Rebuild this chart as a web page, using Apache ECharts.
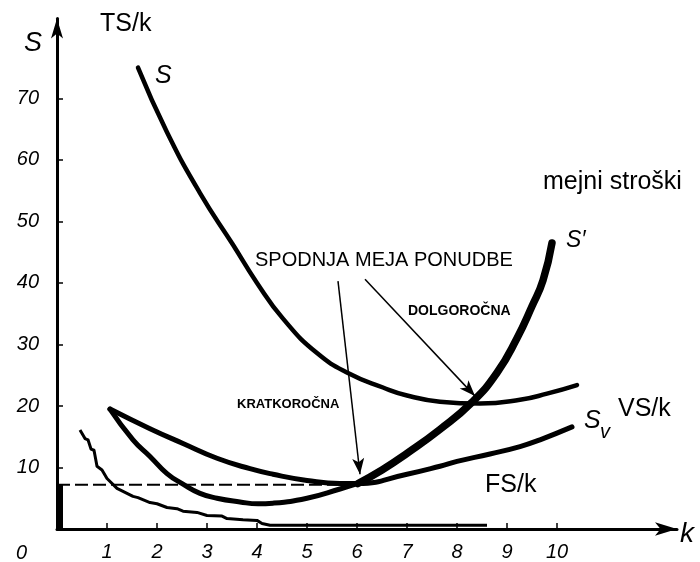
<!DOCTYPE html>
<html>
<head>
<meta charset="utf-8">
<script src="https://cdn.jsdelivr.net/npm/echarts@6/dist/echarts.min.js"></script>
<style>
html,body{margin:0;padding:0;background:#fff;}
#c{width:700px;height:562px;}
</style>
</head>
<body>
<div id="c"></div>
<script>
// ---- data (k = quantity, S = cost) ----
const xTickValues = [1,2,3,4,5,6,7,8,9,10];
const yTickValues = [10,20,30,40,50,60,70];

// S : average total cost (TS/k)
const avgTotalCost = [[1.62,75],[2.2,64.5],[2.86,54.6],[3.52,46.2],[4.0,40.0],[4.52,34.2],[5.2,28.6],[5.86,25.2],[6.52,23.0],[7.0,21.7],[7.66,20.7],[8.46,20.4],[9.26,21.0],[9.8,22.0],[10.4,23.4]];
// Sv : average variable cost (VS/k)
const avgVariableCost = [[1.06,19.5],[1.86,16.3],[2.52,13.9],[3.2,11.5],[3.86,9.8],[4.32,8.9],[5.0,7.9],[5.66,7.4],[6.02,7.4],[7.0,8.9],[7.66,10.2],[8.0,11.0],[8.66,12.2],[9.26,13.4],[9.66,14.5],[10.3,16.6]];
// S' : marginal cost (mejni stroški) - lower and upper part
const marginalCostLow = [[1.06,19.5],[1.52,14.5],[1.86,11.8],[2.2,9.0],[2.52,7.3],[2.86,5.8],[3.2,5.0],[3.66,4.4],[4.02,4.1],[4.32,4.2],[5.0,5.0],[5.66,6.5],[6.02,7.4]];
const marginalCostHigh = [[6.02,7.4],[6.5,9.6],[7.0,12.3],[7.66,16.2],[8.3,20.6],[8.8,25.4],[9.2,31.0],[9.5,36.2],[9.72,40.4],[9.9,46.5]];
// FS/k : average fixed cost (stepped scan line)
const avgFixedCost = [[0.46,16.1],[0.56,14.7],[0.62,14.5],[0.68,13.0],[0.74,12.8],[0.8,10.2],[0.9,9.6],[1.0,8.2],[1.2,6.6],[1.4,5.8],[1.52,5.3],[1.62,5.1],[1.86,4.3],[2.0,4.1],[2.2,3.5],[2.4,3.3],[2.52,2.9],[2.8,2.7],[3.0,2.2],[3.3,2.1],[3.4,1.7],[3.72,1.5],[4.0,1.4],[4.1,0.9],[4.26,0.6],[8.6,0.6]];
// lower supply limit level (dashed) and bar on S axis
const shortRunLevel = 7.2;
const shutdownK = 6.02;
const dashedLine = [[0, shortRunLevel],[shutdownK, shortRunLevel]];
const axisBar = [[0.05,0],[0.05,shortRunLevel]];
// arrows from label "SPODNJA MEJA PONUDBE"
const arrowShort = [[5.62,40.3],[6.06,8.9]];
const arrowLong = [[6.16,40.6],[8.36,21.6]];

const chart = echarts.init(document.getElementById('c'));
const FONT = '"Liberation Sans", Arial, sans-serif';
const black = '#000';

function curve(data, width){
  return {type:'line', data:data, symbol:'none', smooth:0.5,
    lineStyle:{color:black, width:width, cap:'round', join:'round'}, silent:true, z:3};
}

const option = {
  backgroundColor:'#fff',
  animation:false,
  grid:{left:57, right:23, top:18.4, bottom:29},
  xAxis:{
    type:'value', min:0, max:12.4, interval:1,
    splitLine:{show:false},
    axisLine:{lineStyle:{color:black, width:3}, symbol:['none','arrow'], symbolSize:[10,22]},
    axisTick:{inside:true, length:6, lineStyle:{color:black, width:1.5}, customValues:xTickValues},
    axisLabel:{customValues:xTickValues, margin:13, color:black, fontSize:20, fontStyle:'italic', fontFamily:FONT}
  },
  yAxis:{
    type:'value', min:0, max:83, interval:10,
    splitLine:{show:false},
    axisLine:{lineStyle:{color:black, width:3}, symbol:['none','arrow'], symbolSize:[9,20]},
    axisTick:{inside:true, length:6, lineStyle:{color:black, width:1.5}, customValues:yTickValues},
    axisLabel:{customValues:yTickValues, margin:18, color:black, fontSize:20, fontStyle:'italic', fontFamily:FONT}
  },
  series:[
    curve(avgTotalCost, 4.5),
    curve(avgVariableCost, 5),
    curve(marginalCostLow, 5),
    curve(marginalCostHigh, 7.5),
    {type:'line', data:avgFixedCost, symbol:'none', smooth:false,
      lineStyle:{color:black, width:3, join:'round'}, silent:true},
    {type:'line', data:dashedLine, symbol:'none',
      lineStyle:{color:black, width:2, type:[13,5]}, silent:true},
    {type:'line', data:axisBar, symbol:'none',
      lineStyle:{color:black, width:7, cap:'butt'}, silent:true},
    {type:'line', data:[], symbol:'none',
      markLine:{silent:true, symbol:['none','arrow'], symbolSize:[9,16],
        lineStyle:{color:black, width:1.5, type:'solid'}, label:{show:false},
        data:[
          [{coord:arrowShort[0]},{coord:arrowShort[1]}],
          [{coord:arrowLong[0]},{coord:arrowLong[1]}]
        ]}}
  ],
  graphic:[
    {type:'text', left:24, top:30, style:{text:'S', font:'italic 27px '+FONT, fill:black}},
    {type:'text', left:100, top:12, style:{text:'TS/k', font:'25px '+FONT, fill:black}},
    {type:'text', left:155, top:64, style:{text:'S', font:'italic 25px '+FONT, fill:black}},
    {type:'text', left:543, top:170, style:{text:'mejni stroški', font:'25px '+FONT, fill:black}},
    {type:'text', left:566, top:229, style:{text:'S′', font:'italic 23px '+FONT, fill:black}},
    {type:'text', left:255, top:250, style:{text:'SPODNJA MEJA PONUDBE', font:'20px '+FONT, fill:black}},
    {type:'text', left:408, top:304, style:{text:'DOLGOROČNA', font:'bold 14px '+FONT, fill:black}},
    {type:'text', left:237, top:398, style:{text:'KRATKOROČNA', font:'bold 13px '+FONT, fill:black}},
    {type:'text', left:584, top:409, style:{text:'S', font:'italic 25px '+FONT, fill:black}},
    {type:'text', left:600, top:422, style:{text:'v', font:'italic 20px '+FONT, fill:black}},
    {type:'text', left:618, top:397, style:{text:'VS/k', font:'25px '+FONT, fill:black}},
    {type:'text', left:485, top:473, style:{text:'FS/k', font:'25px '+FONT, fill:black}},
    {type:'text', left:680, top:520, style:{text:'k', font:'italic 28px '+FONT, fill:black}},
    {type:'text', left:16, top:543, style:{text:'0', font:'italic 20px '+FONT, fill:black}}
  ]
};
chart.setOption(option);
</script>
</body>
</html>
